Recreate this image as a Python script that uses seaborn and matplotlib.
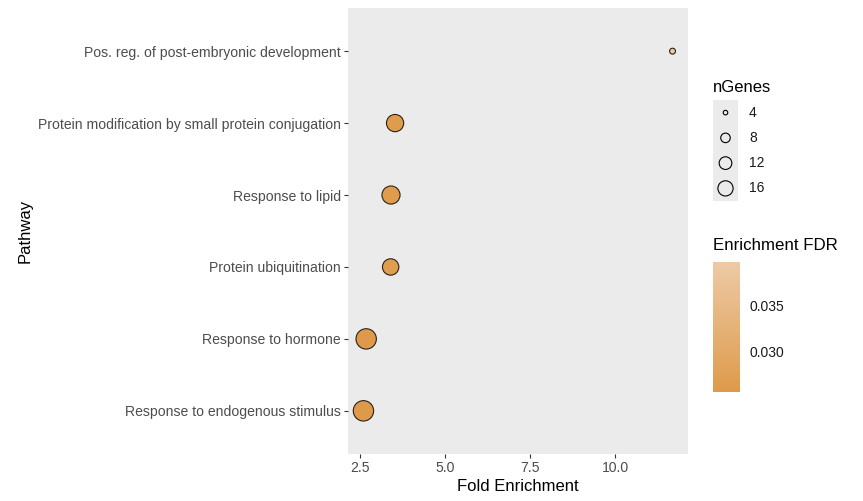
import numpy as np
import pandas as pd
import matplotlib
matplotlib.use("Agg")
import matplotlib.pyplot as plt
import seaborn as sns
from matplotlib.colors import LinearSegmentedColormap, Normalize
from matplotlib.cm import ScalarMappable

# ---- data (top to bottom) ----
pathways = [
    "Pos. reg. of post-embryonic development",
    "Protein modification by small protein conjugation",
    "Response to lipid",
    "Protein ubiquitination",
    "Response to hormone",
    "Response to endogenous stimulus",
]
fold_enrichment = [11.68, 3.52, 3.40, 3.39, 2.67, 2.59]
n_genes = [4, 13, 14, 12, 17, 17]
fdr = [0.0396, 0.0262, 0.0262, 0.0265, 0.0257, 0.0257]

size_breaks = [4, 8, 12, 16]
fdr_ticks = [0.030, 0.035]
fdr_limits = (0.0257, 0.0396)

df = pd.DataFrame({"Pathway": pathways, "Fold Enrichment": fold_enrichment,
                   "nGenes": n_genes, "Enrichment FDR": fdr})

sns.set_theme(style="white")
plt.rcParams["font.family"] = ["Liberation Sans", "DejaVu Sans"]

cmap = LinearSegmentedColormap.from_list("fdr", ["#DE9A4A", "#EDCAA6"])
size_range = (18, 215)
size_norm = (4, 17)

fig = plt.figure(figsize=(8.63, 5.01), dpi=100)
ax = fig.add_axes([348 / 863, 1 - 454 / 501, 340 / 863, 446 / 501])
ax.set_facecolor("#EBEBEB")

sns.scatterplot(data=df, x="Fold Enrichment", y="Pathway", hue="Enrichment FDR",
                palette=cmap, hue_norm=fdr_limits, size="nGenes", sizes=size_range,
                size_norm=size_norm, edgecolor="#2A2118", linewidth=0.8, legend=False,
                ax=ax, zorder=3)

ax.set_ylim(len(pathways) - 0.4, -0.6)
xmin, xmax = min(fold_enrichment), max(fold_enrichment)
pad = 0.05 * (xmax - xmin)
ax.set_xlim(xmin - pad, xmax + pad)
ax.set_xticks([2.5, 5.0, 7.5, 10.0])
ax.set_xticklabels(["2.5", "5.0", "7.5", "10.0"])
for s in ax.spines.values():
    s.set_visible(False)
ax.grid(False)
ax.tick_params(axis="both", which="major", length=3, width=0.8, color="#333333",
               labelcolor="#4D4D4D", labelsize=10.1, pad=2, bottom=True, left=True)
ax.set_xlabel("Fold Enrichment", fontsize=12, color="black", labelpad=3)
ax.set_ylabel("Pathway", fontsize=12, color="black")
ax.yaxis.set_label_coords(-(348 - 33) / 340, 0.5)

# ---- size legend ----
fig.text(713 / 863, 1 - 88 / 501, "nGenes", fontsize=12, color="black", va="center", ha="left")
lax = fig.add_axes([713 / 863, 1 - 201 / 501, 25 / 863, 101 / 501])
lax.set_facecolor("#EBEBEB")
for s in lax.spines.values():
    s.set_visible(False)
lax.set_xticks([]); lax.set_yticks([])
lax.set_xlim(0, 1); lax.set_ylim(len(size_breaks) - 0.5, -0.5)

def size_of(v):
    return size_range[0] + (v - size_norm[0]) / (size_norm[1] - size_norm[0]) * (size_range[1] - size_range[0])

for i, b in enumerate(size_breaks):
    lax.scatter([0.5], [i], s=size_of(b) * 0.6, facecolor="none", edgecolor="black", linewidth=0.8)
    fig.text(749 / 863, 1 - (113 + i * 25) / 501, str(b), fontsize=10, color="#1A1A1A",
             va="center", ha="left")

# ---- colorbar ----
fig.text(713 / 863, 1 - 245 / 501, "Enrichment FDR", fontsize=12.2, color="black", va="center", ha="left")
cax = fig.add_axes([713 / 863, 1 - 392 / 501, 27 / 863, 130 / 501])
sm = ScalarMappable(norm=Normalize(*fdr_limits), cmap=cmap)
cb = fig.colorbar(sm, cax=cax)
cb.outline.set_visible(False)
cb.set_ticks(fdr_ticks)
cb.set_ticklabels([f"{t:.3f}" for t in fdr_ticks])
cax.tick_params(axis="y", left=True, right=True, direction="in", length=5, width=0.8,
                color="white", labelleft=False, labelright=True, labelsize=10,
                labelcolor="#1A1A1A", pad=7)

fig.savefig("out.png", dpi=100, facecolor="white")
